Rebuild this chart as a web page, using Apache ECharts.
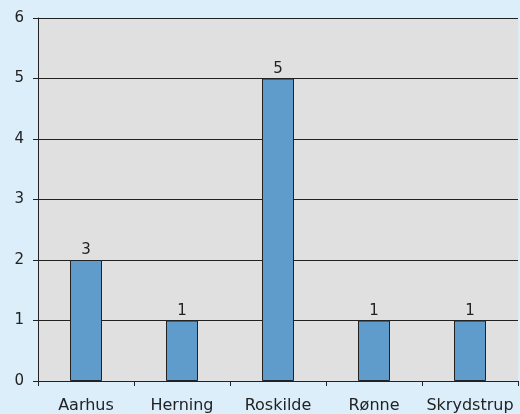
<!DOCTYPE html>
<html><head><meta charset="utf-8">
<script src="https://cdn.jsdelivr.net/npm/echarts@6/dist/echarts.min.js"></script>
<style>html,body{margin:0;padding:0;background:#dbeefa;}#c{width:520px;height:414px;}</style>
</head><body><div id="c"></div>
<script>
const categories = ["Aarhus", "Herning", "Roskilde", "Rønne", "Skrydstrup"];
const values = [2, 1, 5, 1, 1];
const barLabels = ["3", "1", "5", "1", "1"];
const yTicks = [0, 1, 2, 3, 4, 5, 6];

const chart = echarts.init(document.getElementById('c'), null, {renderer: 'canvas'});
const font = "'DejaVu Sans', Verdana, sans-serif";
chart.setOption({
  backgroundColor: '#dbeefa',
  animation: false,
  grid: {left: 38, right: 2, top: 18, bottom: 32, show: true, backgroundColor: '#e0e0e0', borderColor: '#8a8a8a', borderWidth: 0},
  xAxis: {
    type: 'category', data: categories,
    axisLine: {lineStyle: {color: '#222', width: 1}},
    axisTick: {show: true, length: 5, lineStyle: {color: '#222'}},
    axisLabel: {color: '#222', fontFamily: font, fontSize: 16, margin: 17, interval: 0}
  },
  yAxis: {
    type: 'value', min: yTicks[0], max: yTicks[yTicks.length - 1], interval: 1,
    axisLine: {show: true, lineStyle: {color: '#222', width: 1}},
    axisTick: {show: true, length: 5, lineStyle: {color: '#222'}},
    axisLabel: {color: '#222', fontFamily: font, fontSize: 15, margin: 14},
    splitLine: {show: true, lineStyle: {color: '#222', width: 1}}
  },
  series: [{
    type: 'bar', data: values, barWidth: 32,
    itemStyle: {color: '#5f9ccb', borderColor: '#222', borderWidth: 1},
    label: {show: true, position: 'top', distance: 2, color: '#222', fontFamily: font, fontSize: 15,
      formatter: p => barLabels[p.dataIndex]}
  }]
});
</script></body></html>
